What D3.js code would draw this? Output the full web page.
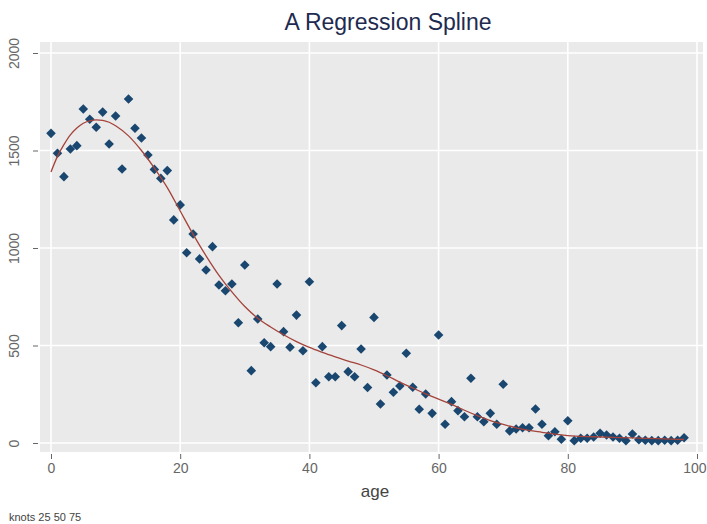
<!DOCTYPE html>
<html>
<head>
<meta charset="utf-8">
<script src="https://cdn.jsdelivr.net/npm/d3@7"></script>
<style>
  body { margin: 0; background: #fff; }
  text { font-family: "Liberation Sans", Arial, sans-serif; }
</style>
</head>
<body>
<div id="chart"></div>
<script>
var ages = d3.range(0, 99);
var counts = [1588, 1486, 1366, 1508, 1525, 1713, 1660, 1619, 1697, 1533,
              1677, 1405, 1764, 1614, 1564, 1477, 1403, 1357, 1397, 1144,
              1221, 976, 1072, 944, 887, 1007, 810, 781, 815, 617,
              913, 371, 636, 514, 494, 815, 571, 491, 656, 473,
              827, 309, 494, 340, 340, 602, 366, 340, 482, 285,
              644, 200, 349, 260, 292, 460, 286, 173, 251, 152,
              554, 96, 212, 166, 135, 332, 135, 109, 152, 96,
              301, 62, 72, 78, 78, 174, 96, 37, 58, 19,
              114, 12, 24, 24, 31, 50, 41, 31, 24, 12,
              46, 17, 14, 12, 12, 14, 12, 14, 27];

// fitted regression spline, read at a few ages
var fitAges = [0, 1, 2, 3, 4, 5, 6, 7, 8, 9, 10, 12, 14, 16, 18, 20, 22, 24, 26, 28,
               30, 32, 34, 36, 38, 40, 42, 44, 46, 48, 50, 52, 54, 56, 58, 60,
               62, 64, 66, 68, 70, 72, 74, 76, 78, 80, 84, 88, 92, 96, 98];
var fitValues = [1390, 1470, 1530, 1580, 1615, 1640, 1652, 1657, 1655, 1645, 1627,
                 1575, 1500, 1410, 1310, 1190, 1070, 960, 860, 775,
                 700, 640, 595, 555, 520, 490, 465, 442, 420, 400, 375, 345,
                 312, 282, 252, 225, 198, 168, 140, 115, 95, 78, 65, 55, 45,
                 38, 32, 28, 24, 20, 18];

var xTicks = [0, 20, 40, 60, 80, 100];
var yTicks = [0, 500, 1000, 1500, 2000];

var width = 707, height = 524;

var svg = d3.select("#chart")
  .append("svg")
    .attr("width", width)
    .attr("height", height);

// plot region
svg.append("rect")
  .attr("x", 40).attr("y", 42)
  .attr("width", 663).attr("height", 410)
  .attr("fill", "#eaeaea");

var x = d3.scaleLinear().domain([0, 100]).range([51, 697]);
var y = d3.scaleLinear().domain([0, 2000]).range([443, 53]);

// grid lines
svg.append("g").selectAll("line")
  .data(yTicks).enter().append("line")
    .attr("x1", 40).attr("x2", 703)
    .attr("y1", function(d) { return y(d); })
    .attr("y2", function(d) { return y(d); })
    .attr("stroke", "#fff").attr("stroke-width", 1.6);
svg.append("g").selectAll("line")
  .data(xTicks).enter().append("line")
    .attr("y1", 42).attr("y2", 452)
    .attr("x1", function(d) { return x(d); })
    .attr("x2", function(d) { return x(d); })
    .attr("stroke", "#fff").attr("stroke-width", 1.6);

// Y axis
var yAxis = svg.append("g")
  .attr("transform", "translate(38,0)")
  .call(d3.axisLeft(y).tickValues(yTicks).tickFormat(d3.format("d")).tickSize(5));
yAxis.select(".domain").remove();
yAxis.selectAll(".tick line").attr("stroke", "#666");
yAxis.selectAll(".tick text")
  .attr("fill", "#666")
  .style("font-size", "14px")
  .attr("text-anchor", "middle")
  .attr("transform", "rotate(-90)")
  .attr("x", 0)
  .attr("dy", 0)
  .attr("y", -19);

// X axis
var xAxis = svg.append("g")
  .attr("transform", "translate(0,454)")
  .call(d3.axisBottom(x).tickValues(xTicks).tickSize(5).tickPadding(4));
xAxis.select(".domain").remove();
xAxis.selectAll(".tick line").attr("stroke", "#666");
xAxis.selectAll(".tick text")
  .attr("fill", "#666")
  .style("font-size", "14px");
// last label sits on the window edge, keep it inside
xAxis.selectAll(".tick text")
  .filter(function(d) { return d === 100; })
  .attr("text-anchor", "end")
  .attr("x", 9);

// axis title
svg.append("text")
  .attr("x", 375).attr("y", 497)
  .attr("text-anchor", "middle")
  .attr("fill", "#444")
  .style("font-size", "17px")
  .text("age");

// note
svg.append("text")
  .attr("x", 9).attr("y", 521)
  .attr("fill", "#444")
  .style("font-size", "11px")
  .text("knots 25 50 75");

// title
svg.append("text")
  .attr("x", 388).attr("y", 30)
  .attr("text-anchor", "middle")
  .attr("fill", "#1e2b4f")
  .style("font-size", "23px")
  .text("A Regression Spline");

// points
var pts = ages.map(function(a, i) { return {age: a, v: counts[i]}; });
svg.append("g").selectAll("path")
  .data(pts).enter().append("path")
    .attr("d", d3.symbol().type(d3.symbolSquare).size(46))
    .attr("transform", function(d) {
      return "translate(" + x(d.age) + "," + y(d.v) + ") rotate(45)";
    })
    .attr("fill", "#1a476f");

// spline fit
var fit = fitAges.map(function(a, i) { return {age: a, v: fitValues[i]}; });
svg.append("path")
  .datum(fit)
  .attr("d", d3.line()
    .x(function(d) { return x(d.age); })
    .y(function(d) { return y(d.v); })
    .curve(d3.curveMonotoneX))
  .attr("fill", "none")
  .attr("stroke", "#a4433b")
  .attr("stroke-width", 1.3);
</script>
</body>
</html>
